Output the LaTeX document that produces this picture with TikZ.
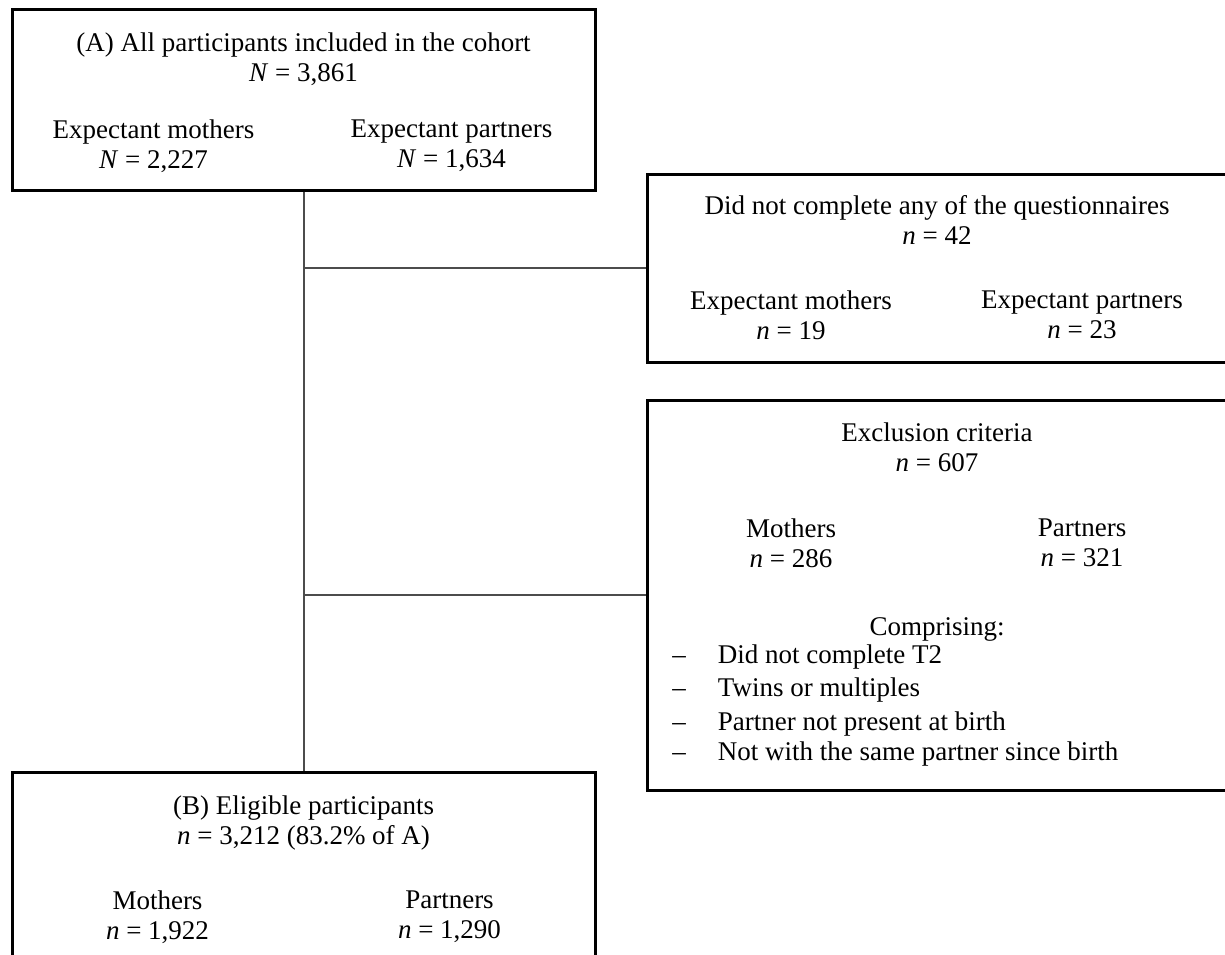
\documentclass[tikz,border=0pt]{standalone}
\usepackage{fontspec}
\setmainfont{Liberation Serif}
\usepackage{tikz}
\usetikzlibrary{positioning}

\begin{document}
\begin{tikzpicture}[x=0.5pt, y=-0.5pt,
    box/.style={rectangle, draw=black, line width=1.5pt, minimum width=291.5pt, minimum height=90.5pt, inner sep=0pt},
    txt/.style={align=center, inner sep=0pt, font=\fontsize{13.5}{15}\selectfont},
    link/.style={draw=black!70, line width=1pt} ]

    \useasboundingbox (0,0) rectangle (1225,954);

    %Boxes
    \node[box] (all_part) at (303.5,99.5) {};
    \node[box, minimum height=100pt](eligible)[below=289.5pt of all_part]{};
    \node[box, minimum width=290pt, minimum height=94pt] (no_quest) at (937,268) {};
    \node[box, minimum width=290pt, minimum height=195pt](excl_crit)[below=17.5pt of no_quest]{};

    %Texts
    \node[txt](all_title)[below=12.2pt of all_part.north]{(A) All participants included in the cohort\\\textit{N} = 3,861};
    \node[txt](all_mothers)[below=55.8pt of all_part.north, xshift=-75pt]{Expectant mothers\\\textit{N} = 2,227};
    \node[txt](all_partners)[below=55.8pt of all_part.north, xshift=74pt]{Expectant partners\\\textit{N} = 1,634};

    \node[txt](quest_title)[below=11.5pt of no_quest.north]{Did not complete any of the questionnaires\\\textit{n} = 42};
    \node[txt](quest_mothers)[below=58.8pt of no_quest.north, xshift=-73pt]{Expectant mothers\\\textit{n} = 19};
    \node[txt](quest_partners)[below=58.8pt of no_quest.north, xshift=72.5pt]{Expectant partners\\\textit{n} = 23};

    \node[txt](excl_title)[below=11.8pt of excl_crit.north]{Exclusion criteria\\\textit{n} = 607};
    \node[txt](excl_mothers)[below=59.8pt of excl_crit.north, xshift=-73pt]{Mothers\\\textit{n} = 286};
    \node[txt](excl_partners)[below=59.8pt of excl_crit.north, xshift=72.5pt]{Partners\\\textit{n} = 321};
    \node[txt](comprising)[below=109.4pt of excl_crit.north]{Comprising:};
    \node[txt, align=left](excl_list)[below=122.8pt of excl_crit.north, anchor=north west, xshift=-132.5pt]{%
        \textendash\hspace{16pt}Did not complete T2\\[1.5pt]
        \textendash\hspace{16pt}Twins or multiples\\[2pt]
        \textendash\hspace{16pt}Partner not present at birth\\
        \textendash\hspace{16pt}Not with the same partner since birth};

    \node[txt](elig_title)[below=12.2pt of eligible.north]{(B) Eligible participants\\\textit{n} = 3,212 (83.2\% of A)};
    \node[txt](elig_mothers)[below=59.8pt of eligible.north, xshift=-73pt]{Mothers\\\textit{n} = 1,922};
    \node[txt](elig_partners)[below=59.8pt of eligible.north, xshift=73pt]{Partners\\\textit{n} = 1,290};

    %Lines
    \draw[link] (all_part.south) -- (eligible.north);
    \draw[link] (all_part.south |- no_quest.west) -- (no_quest.west);
    \draw[link] (all_part.south |- excl_crit.west) -- (excl_crit.west);
\end{tikzpicture}
\end{document}
